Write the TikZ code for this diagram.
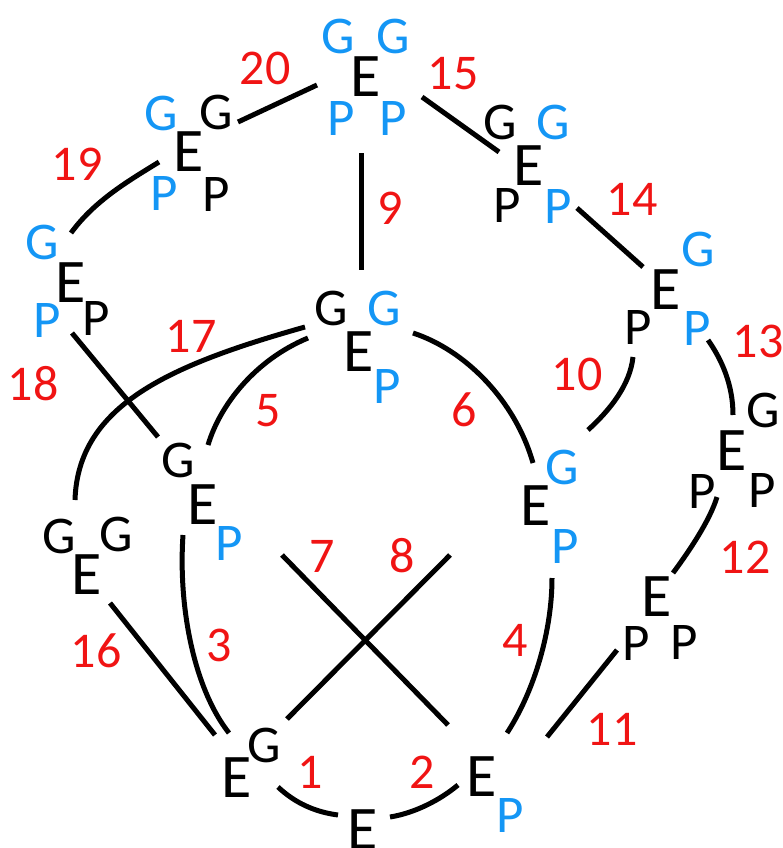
\documentclass[tikz,border=0pt]{standalone}
\usepackage{fontspec}
\setmainfont{Carlito}
\definecolor{mblue}{RGB}{20,150,245}
\definecolor{mred}{RGB}{240,20,20}
\begin{document}
\begin{tikzpicture}[x=1pt,y=-1pt,
  lbl/.style={inner sep=0pt, font=\fontsize{50}{50}\selectfont, text=mred},
  eL/.style={inner sep=0pt, font=\fontsize{62}{62}\selectfont},
  sL/.style={inner sep=0pt, font=\fontsize{53}{53}\selectfont},
  bl/.style={text=mblue},
  bond/.style={line width=5pt, black}]
\useasboundingbox (0,0) rectangle (782,848);
% ---- top molecule
\node[sL,bl] (tG1) at (338,36) {G};
\node[sL,bl] (tG2) at (393,36) {G};
\node[eL] (tE) at (366,77) {E};
\node[sL,bl] (tP1) at (341,118) {P};
\node[sL,bl] (tP2) at (393,118) {P};
% ---- upper left
\node[sL,bl] (ulG1) at (161,113) {G};
\node[sL] (ulG2) at (216,112) {G};
\node[eL] (ulE) at (189,152) {E};
\node[sL,bl] (ulP1) at (164,193) {P};
\node[sL] (ulP2) at (216,194) {P};
% ---- left
\node[sL,bl] (lG) at (42,242) {G};
\node[eL] (lE) at (71,283) {E};
\node[sL,bl] (lP1) at (47,320) {P};
\node[sL] (lP2) at (96,318) {P};
% ---- upper right
\node[sL] (urG1) at (500,122) {G};
\node[sL,bl] (urG2) at (553,122) {G};
\node[eL] (urE) at (529,166) {E};
\node[sL] (urP1) at (507,205) {P};
\node[sL,bl] (urP2) at (558,206) {P};
% ---- right
\node[sL,bl] (rG) at (698,249) {G};
\node[eL] (rE) at (666,290) {E};
\node[sL] (rP1) at (638,327) {P};
\node[sL,bl] (rP2) at (697,328) {P};
% ---- centre
\node[sL] (cG1) at (331,308) {G};
\node[sL,bl] (cG2) at (384,308) {G};
\node[eL] (cE) at (359,352) {E};
\node[sL,bl] (cP) at (387,386) {P};
% ---- mid left
\node[sL] (mlG) at (178,460) {G};
\node[eL] (mlE) at (203,505) {E};
\node[sL,bl] (mlP) at (229,543) {P};
% ---- lower left
\node[sL] (llG1) at (59,536) {G};
\node[sL] (llG2) at (116,534) {G};
\node[eL] (llE) at (87,575) {E};
% ---- mid right
\node[sL,bl] (mrG) at (562,467) {G};
\node[eL] (mrE) at (536,506) {E};
\node[sL,bl] (mrP) at (565,546) {P};
% ---- right lower
\node[sL] (rrG) at (763,410) {G};
\node[eL] (rrE) at (732,451) {E};
\node[sL] (rrP1) at (702,491) {P};
\node[sL] (rrP2) at (762,490) {P};
% ---- right bottom
\node[eL] (r2E) at (657,597) {E};
\node[sL] (r2P1) at (636,643) {P};
\node[sL] (r2P2) at (684,642) {P};
% ---- bottom
\node[sL] (blG) at (264,745) {G};
\node[eL] (blE) at (237,778) {E};
\node[eL] (bE) at (363,830) {E};
\node[eL] (brE) at (482,777) {E};
\node[sL,bl] (brP) at (510,815) {P};
% ---- labels
\node[lbl] (n1) at (310,772) {1};
\node[lbl] (n2) at (422,772) {2};
\node[lbl] (n3) at (219,645) {3};
\node[lbl] (n4) at (515,640) {4};
\node[lbl] (n5) at (268,411) {5};
\node[lbl] (n6) at (464,410) {6};
\node[lbl] (n7) at (322,556) {7};
\node[lbl] (n8) at (402,556) {8};
\node[lbl] (n9) at (390,208) {9};
\node[lbl] (n10) at (577,374) {10};
\node[lbl] (n11) at (612,729) {11};
\node[lbl] (n12) at (745,557) {12};
\node[lbl] (n13) at (758,341) {13};
\node[lbl] (n14) at (632,199) {14};
\node[lbl] (n15) at (453,74) {15};
\node[lbl] (n16) at (96,651) {16};
\node[lbl] (n17) at (191,336) {17};
\node[lbl] (n18) at (33,384) {18};
\node[lbl] (n19) at (77,164) {19};
\node[lbl] (n20) at (265,68) {20};
% ---- bond end points
\coordinate (a1) at (278,787);  \coordinate (b1) at (338,815);
\coordinate (a2) at (390,817);  \coordinate (b2) at (458,785);
\coordinate (a3) at (183,535);  \coordinate (b3) at (229,733);
\coordinate (a4) at (552,578);  \coordinate (b4) at (507,733);
\coordinate (a5) at (308,338);  \coordinate (b5) at (208,445);
\coordinate (a6) at (413,333);  \coordinate (b6) at (533,463);
\coordinate (a7) at (282,555);  \coordinate (b7) at (448,725);
\coordinate (a8) at (450,555);  \coordinate (b8) at (287,719);
\coordinate (a9) at (361,153);  \coordinate (b9) at (361,270);
\coordinate (a10) at (633,357); \coordinate (b10) at (588,430);
\coordinate (a11) at (547,737); \coordinate (b11) at (617,650);
\coordinate (a12) at (717,497); \coordinate (b12) at (673,573);
\coordinate (a13) at (708,340); \coordinate (b13) at (733,415);
\coordinate (a14) at (577,208); \coordinate (b14) at (643,267);
\coordinate (a15) at (422,97);  \coordinate (b15) at (499,152);
\coordinate (a16) at (110,603); \coordinate (b16) at (215,735);
\coordinate (a17) at (305,327); \coordinate (b17) at (75,500);
\coordinate (a18) at (72,333);  \coordinate (b18) at (158,437);
\coordinate (a19) at (159,162); \coordinate (b19) at (71,233);
\coordinate (a20) at (238,122); \coordinate (b20) at (317,85);
% ---- bonds
\draw[bond] (a1) .. controls (295,803) and (315,812) .. (b1);
\draw[bond] (a2) .. controls (415,813) and (440,800) .. (b2);
\draw[bond] (a3) .. controls (178,610) and (195,690) .. (b3);
\draw[bond] (a4) .. controls (552,630) and (535,690) .. (b4);
\draw[bond] (a5) .. controls (255,360) and (220,405) .. (b5);
\draw[bond] (a6) .. controls (465,350) and (515,400) .. (b6);
\draw[bond] (a7) -- (b7);
\draw[bond] (a8) -- (b8);
\draw[bond] (a9) -- (b9);
\draw[bond] (a10) .. controls (630,385) and (610,410) .. (b10);
\draw[bond] (a11) -- (b11);
\draw[bond] (a12) .. controls (710,520) and (690,550) .. (b12);
\draw[bond] (a13) .. controls (722,360) and (733,385) .. (b13);
\draw[bond] (a14) -- (b14);
\draw[bond] (a15) -- (b15);
\draw[bond] (a16) -- (b16);
\draw[bond] (a17) .. controls (170,365) and (78,405) .. (b17);
\draw[bond] (a18) -- (b18);
\draw[bond] (a19) .. controls (130,180) and (95,200) .. (b19);
\draw[bond] (a20) -- (b20);
\end{tikzpicture}
\end{document}
